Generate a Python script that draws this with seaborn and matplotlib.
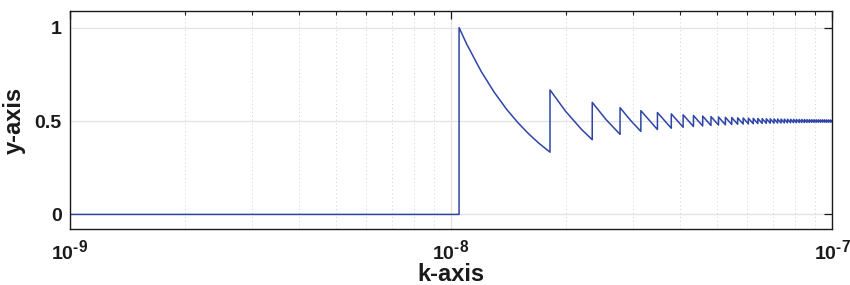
import numpy as np
import pandas as pd
import matplotlib
matplotlib.use("Agg")
import matplotlib.pyplot as plt
import matplotlib._mathtext as _mt
import seaborn as sns
from matplotlib.ticker import LogLocator, NullFormatter

_mt.SHRINK_FACTOR = 0.8  # larger superscripts, as in the reference

# ---- data (k values in units of 1e-9) ----
x_start = 1.0
jump_k = [10.50, 18.19, 23.48, 27.78, 31.50, 34.82, 37.86, 40.67, 43.29, 45.77,
          48.12, 50.36, 52.50, 54.56, 56.54, 58.46, 60.32, 62.12, 63.87, 65.57,
          67.23, 68.85, 70.44, 71.98, 73.50, 74.98, 76.44, 77.87, 79.27, 80.65,
          82.01, 83.34, 84.65, 85.95, 87.22, 88.47, 89.71, 90.93, 92.14, 93.33,
          94.50, 95.66, 96.80, 97.94, 99.06, 100.16]
peak_y = [1.0, 0.6667, 0.6, 0.5714, 0.5556, 0.5455, 0.5385, 0.5333, 0.5294, 0.5263,
          0.5238, 0.5217, 0.52, 0.5185, 0.5172, 0.5161, 0.5152, 0.5143, 0.5135, 0.5128,
          0.5122, 0.5116, 0.5111, 0.5106, 0.5102, 0.5098, 0.5094, 0.5091, 0.5088, 0.5085,
          0.5082, 0.5079, 0.5077, 0.5075, 0.5072, 0.507, 0.5068, 0.5067, 0.5065, 0.5063,
          0.5062, 0.506, 0.5059, 0.5057, 0.5056]
trough_y = [0.3333, 0.4, 0.4286, 0.4444, 0.4545, 0.4615, 0.4667, 0.4706, 0.4737, 0.4762,
            0.4783, 0.48, 0.4815, 0.4828, 0.4839, 0.4848, 0.4857, 0.4865, 0.4872, 0.4878,
            0.4884, 0.4889, 0.4894, 0.4898, 0.4902, 0.4906, 0.4909, 0.4912, 0.4915, 0.4918,
            0.4921, 0.4923, 0.4925, 0.4928, 0.493, 0.4932, 0.4933, 0.4935, 0.4937, 0.4938,
            0.494, 0.4941, 0.4943, 0.4944, 0.4945]
bend_tooth = [0, 0, 0, 0, 0, 0, 0, 1, 1, 2, 3]
bend_k = [11.0, 12.0, 13.0, 14.0, 15.0, 16.0, 17.0, 20.0, 22.0, 25.5, 29.5]
bend_y = [0.9112, 0.7656, 0.6524, 0.5625, 0.49, 0.4307, 0.3815, 0.5513, 0.4556, 0.5087, 0.5068]

x_tick_vals = [1e-9, 1e-8, 1e-7]
x_tick_exps = ["-9", "-8", "-7"]
y_tick_vals = [0, 0.5, 1]
y_tick_labels = ["0", "0.5", "1"]

xs = [x_start, jump_k[0]]
ys = [0.0, 0.0]
for n in range(len(peak_y)):
    xs.append(jump_k[n]); ys.append(peak_y[n])
    for t, k, v in zip(bend_tooth, bend_k, bend_y):
        if t == n:
            xs.append(k); ys.append(v)
    xs.append(jump_k[n + 1]); ys.append(trough_y[n])
df = pd.DataFrame({"k": np.array(xs) * 1e-9, "y": ys})

# ---- style ----
sns.set_theme(style="white")
plt.rcParams["font.family"] = ["Liberation Sans", "DejaVu Sans"]
plt.rcParams["font.weight"] = "bold"
plt.rcParams["mathtext.fontset"] = "custom"
plt.rcParams["mathtext.rm"] = "Liberation Sans:bold"
plt.rcParams["mathtext.bf"] = "Liberation Sans:bold"
plt.rcParams["mathtext.default"] = "bf"

fig = plt.figure(figsize=(8.5, 2.85), dpi=100)
ax = fig.add_axes([70 / 850, 1 - 229 / 285, (832 - 70) / 850, (229 - 11) / 285])

sns.lineplot(data=df, x="k", y="y", sort=False, estimator=None,
             color="#2E45A8", linewidth=1.1, ax=ax)

ax.set_xscale("log")
ax.set_xlim(1e-9, 1e-7)
ax.set_ylim(-0.078, 1.089)

ax.set_xticks(x_tick_vals)
ax.set_xticklabels([r"$10^{\text{%s}}$" % e for e in x_tick_exps])
ax.xaxis.set_minor_locator(LogLocator(base=10, subs=np.arange(2, 10), numticks=20))
ax.xaxis.set_minor_formatter(NullFormatter())
ax.set_yticks(y_tick_vals)
ax.set_yticklabels(y_tick_labels)

ax.grid(True, which="major", color="#e3e3e3", linewidth=0.9, linestyle="-")
ax.grid(True, which="minor", axis="x", color="#d0d0d0", linewidth=0.7, linestyle=(0, (1, 3)))
ax.set_axisbelow(True)

ax.tick_params(which="major", direction="in", length=6, width=0.9, top=True, right=True,
               labelsize=14, colors="#1a1a1a")
ax.tick_params(which="minor", direction="in", length=3, width=0.8, top=True, right=True)
ax.tick_params(axis="x", which="major", pad=7)
ax.tick_params(axis="y", which="major", pad=6)
for s in ax.spines.values():
    s.set_visible(True)
    s.set_color("#1a1a1a")
    s.set_linewidth(1.0)

ax.set_xlabel("k-axis", fontsize=17, fontweight="bold", labelpad=0, color="#1a1a1a")
ax.set_ylabel("y-axis", fontsize=17, fontweight="bold", labelpad=6, color="#1a1a1a")

fig.savefig("out.png", dpi=100)
